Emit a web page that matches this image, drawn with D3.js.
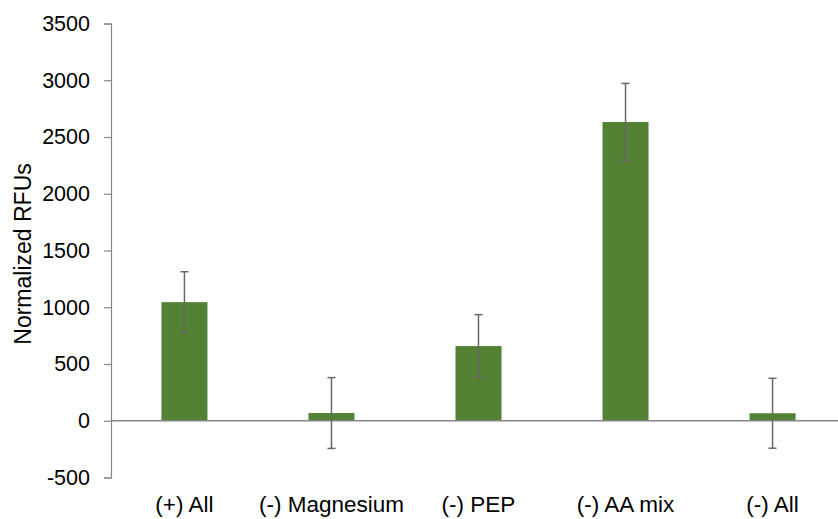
<!DOCTYPE html>
<html>
<head>
<meta charset="utf-8">
<script src="https://cdn.jsdelivr.net/npm/d3@7"></script>
<style>
  html, body { margin: 0; padding: 0; background: #fff; }
  svg { display: block; font-family: "Liberation Sans", Arial, sans-serif; }
</style>
</head>
<body>
<svg id="chart" width="838" height="519"></svg>
<script>
// Conditions and measured fluorescence (normalized RFUs) with error bars
const categories = ["(+) All", "(-) Magnesium", "(-) PEP", "(-) AA mix", "(-) All"];
const values = [1045, 68, 658, 2632, 66];
const errors = [268, 312, 277, 340, 308];
const yTicks = [-500, 0, 500, 1000, 1500, 2000, 2500, 3000, 3500];

const svg = d3.select("#chart");
const axisX = 111;

const y = d3.scaleLinear().domain([-500, 3500]).range([477.5, 23.5]);
const x = d3.scaleBand().domain(categories).range([axisX, 846]).paddingInner(0.687).paddingOuter(0.343);

// Y axis
const yAxis = svg.append("g")
  .attr("transform", `translate(${axisX},0)`)
  .call(d3.axisLeft(y).tickValues(yTicks).tickSize(7).tickPadding(14).tickFormat(d => String(d)));
yAxis.select(".domain").attr("stroke", "#868686").attr("stroke-width", 1.2);
yAxis.selectAll(".tick line").attr("stroke", "#868686").attr("stroke-width", 1.2);
yAxis.selectAll(".tick text")
  .attr("fill", "#000").attr("font-size", 21.5)
  .attr("font-family", "Liberation Sans, Arial, sans-serif");

// Bars
svg.append("g").selectAll("rect").data(categories).join("rect")
  .attr("x", d => x(d))
  .attr("width", x.bandwidth())
  .attr("y", (d, i) => Math.min(y(values[i]), y(0)))
  .attr("height", (d, i) => Math.abs(y(0) - y(values[i])))
  .attr("fill", "#548235");

// Zero baseline
svg.append("line")
  .attr("x1", axisX).attr("x2", 838)
  .attr("y1", y(0)).attr("y2", y(0))
  .attr("stroke", "#868686").attr("stroke-width", 1.4);

// Error bars
const eb = svg.append("g").attr("stroke", "#676767").attr("stroke-width", 1.5);
categories.forEach((c, i) => {
  const cx = x(c) + x.bandwidth() / 2;
  const hi = y(values[i] + errors[i]);
  const lo = y(values[i] - errors[i]);
  eb.append("line").attr("x1", cx).attr("x2", cx).attr("y1", hi).attr("y2", lo);
  eb.append("line").attr("x1", cx - 4).attr("x2", cx + 4).attr("y1", hi).attr("y2", hi);
  eb.append("line").attr("x1", cx - 4).attr("x2", cx + 4).attr("y1", lo).attr("y2", lo);
});

// Category labels
svg.append("g").selectAll("text").data(categories).join("text")
  .attr("x", d => x(d) + x.bandwidth() / 2)
  .attr("y", 512)
  .attr("text-anchor", "middle")
  .attr("font-size", 22.5)
  .attr("fill", "#000")
  .text(d => d);

// Y axis title
svg.append("text")
  .attr("transform", "translate(31,254) rotate(-90)")
  .attr("text-anchor", "middle")
  .attr("font-size", 23)
  .attr("fill", "#000")
  .text("Normalized RFUs");
</script>
</body>
</html>
